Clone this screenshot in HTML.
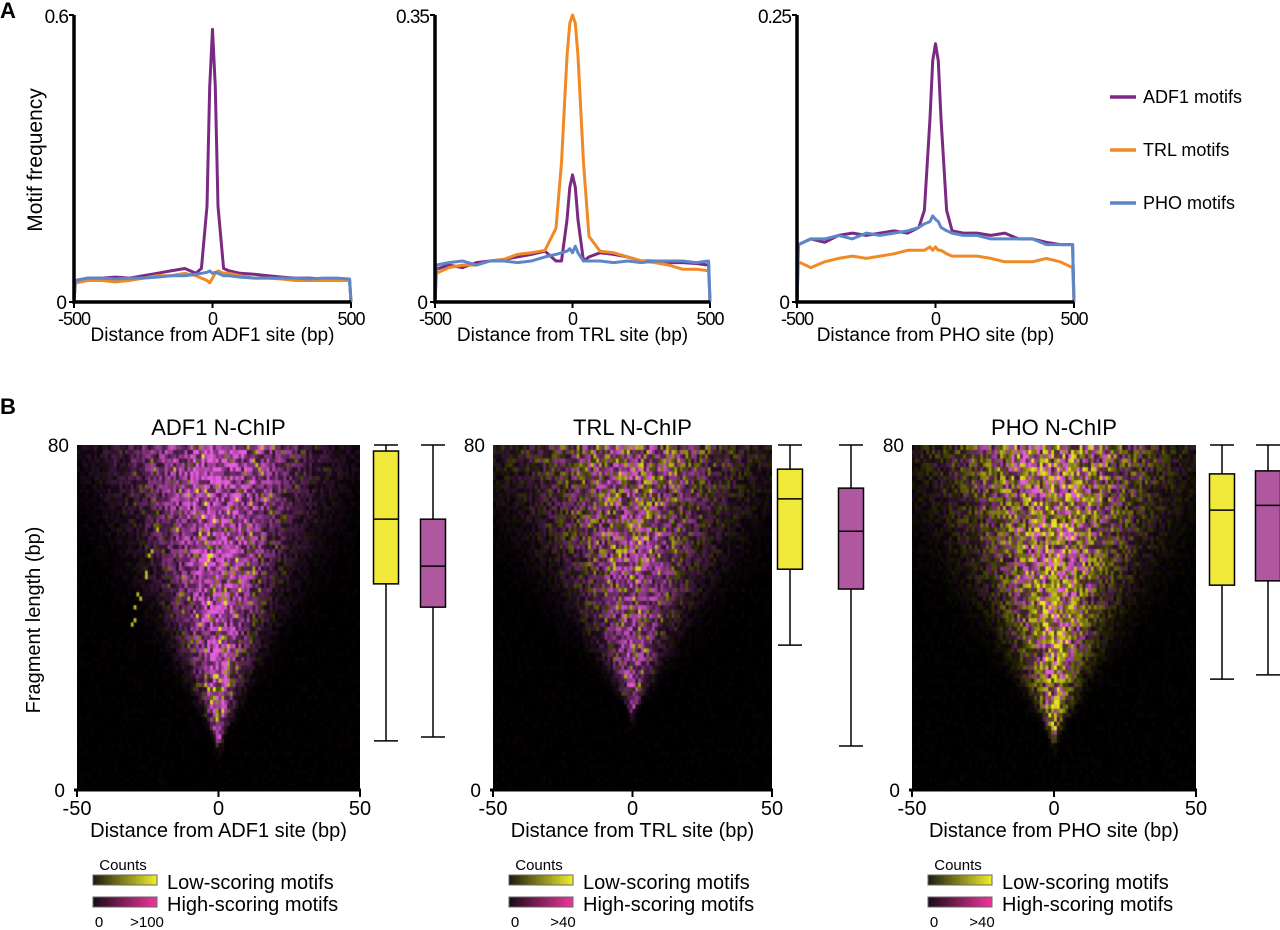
<!DOCTYPE html>
<html><head><meta charset="utf-8">
<style>
html,body{margin:0;padding:0;background:#fff;}
#wrap{position:relative;width:1280px;height:930px;overflow:hidden;font-family:"Liberation Sans",sans-serif;}
canvas{position:absolute;}
svg{position:absolute;left:0;top:0;}
text{font-family:"Liberation Sans",sans-serif;fill:#000;}
</style></head>
<body>
<div id="wrap">
<canvas id="hm0"></canvas>
<canvas id="hm1"></canvas>
<canvas id="hm2"></canvas>
<svg id="svg" width="1280" height="930"></svg>
</div>
<script>
// ---------- Panel A data ----------
const xs = [-500,-495,-450,-400,-350,-300,-250,-200,-150,-100,-60,-40,-20,-10,0,10,20,40,60,100,150,200,250,300,350,400,450,495,500];
const p1ADF1 = [0,0.045,0.05,0.05,0.052,0.05,0.055,0.06,0.065,0.07,0.06,0.07,0.2,0.45,0.57,0.45,0.2,0.07,0.065,0.06,0.058,0.055,0.052,0.05,0.05,0.048,0.048,0.045,0];
const p1TRL  = [0,0.04,0.045,0.045,0.042,0.045,0.05,0.055,0.055,0.06,0.055,0.05,0.045,0.04,0.05,0.06,0.065,0.06,0.06,0.055,0.05,0.05,0.048,0.045,0.045,0.045,0.045,0.045,0];
const p1PHO  = [0,0.045,0.05,0.05,0.048,0.05,0.05,0.052,0.055,0.055,0.058,0.06,0.062,0.065,0.06,0.062,0.06,0.055,0.055,0.052,0.05,0.05,0.05,0.05,0.048,0.05,0.05,0.048,0];
const p2ADF1 = [0,0.04,0.045,0.042,0.048,0.05,0.052,0.055,0.058,0.062,0.05,0.05,0.1,0.14,0.155,0.14,0.1,0.05,0.055,0.06,0.058,0.055,0.05,0.05,0.048,0.048,0.047,0.045,0];
const p2TRL  = [0,0.035,0.042,0.045,0.045,0.05,0.052,0.058,0.06,0.063,0.09,0.17,0.3,0.34,0.35,0.34,0.3,0.17,0.08,0.062,0.06,0.055,0.05,0.048,0.045,0.04,0.04,0.038,0];
const p2PHO  = [0,0.045,0.048,0.05,0.045,0.05,0.05,0.048,0.05,0.055,0.058,0.06,0.062,0.065,0.06,0.068,0.06,0.05,0.05,0.05,0.048,0.05,0.048,0.05,0.05,0.05,0.048,0.05,0];
const p3ADF1 = [0,0.05,0.055,0.052,0.058,0.06,0.058,0.06,0.062,0.06,0.065,0.08,0.16,0.21,0.225,0.21,0.16,0.08,0.062,0.06,0.06,0.058,0.06,0.055,0.055,0.052,0.05,0.05,0];
const p3TRL  = [0,0.035,0.03,0.035,0.038,0.04,0.038,0.04,0.042,0.045,0.045,0.045,0.048,0.045,0.048,0.045,0.045,0.042,0.04,0.04,0.04,0.038,0.035,0.035,0.035,0.038,0.035,0.03,0];
const p3PHO  = [0,0.05,0.055,0.055,0.058,0.055,0.06,0.058,0.06,0.062,0.065,0.068,0.07,0.075,0.072,0.07,0.065,0.062,0.06,0.058,0.058,0.055,0.055,0.055,0.055,0.05,0.05,0.05,0];
const yMaxLabels = ["0.6","0.35","0.25"];
const yMaxVals = [0.6,0.35,0.25];
const siteNames = ["ADF1","TRL","PHO"];
// ---------- Panel B data ----------
const yellowBox = [[11.4,47.8,62.8,78.6,80],[33.6,51.2,67.5,74.4,80],[25.7,47.5,64.9,73.3,80]];
const purpleBox = [[12.3,42.4,51.9,62.8,80],[10.2,46.6,60,70,80],[26.7,48.5,66,74,80]];
const hmApex = [12,19,13];
const hmHalfTop = [38,46,44];
const hmYellowFracBottom = [0.25,0.05,0.7];
const hmYellowFracTop = [0.05,0.45,0.5];
const hmGain = [1.0,0.8,0.95];
const countMax = [">100",">40",">40"];

const NS="http://www.w3.org/2000/svg";
const svg=document.getElementById('svg');
function mk(tag,attrs,parent){const e=document.createElementNS(NS,tag);for(const k in attrs)e.setAttribute(k,attrs[k]);(parent||svg).appendChild(e);return e;}
function txt(x,y,s,size,anchor,parent,extra){const t=mk('text',Object.assign({x:x,y:y,'font-size':size,'text-anchor':anchor||'start'},extra||{}),parent);t.textContent=s;return t;}

let t=txt(0,18,"A",22,"start",null,{'font-weight':'bold'});


t=txt(0,414,"B",22,"start",null,{'font-weight':'bold'});



// ---------- Line charts ----------
const lineX0=[74,435,797], lineX1=[351,710,1074], lineTop=15, lineBot=302;
const series=[[p1ADF1,p1TRL,p1PHO],[p2ADF1,p2TRL,p2PHO],[p3ADF1,p3TRL,p3PHO]];
const colors=["#7b2a84","#f08a24","#5b87c9"];
const snames=["adf1","trl","pho"];
for(let p=0;p<3;p++){
  const g=mk('g',{});
  
  
  const sx=v=>lineX0[p]+(v+500)/1000*(lineX1[p]-lineX0[p]);
  const sy=v=>lineBot-v/yMaxVals[p]*(lineBot-lineTop);
  for(let s=0;s<3;s++){
    const d=xs.map((x,i)=>(i?'L':'M')+sx(x).toFixed(1)+','+sy(series[p][s][i]).toFixed(1)).join('');
    const path=mk('path',{d:d,fill:'none',stroke:colors[s],'stroke-width':3,'stroke-linejoin':'round'},g);
    
    
  }
  const ax=mk('path',{d:`M${lineX0[p]},${lineTop}V${lineBot}H${lineX1[p]}`,fill:'none',stroke:'#000','stroke-width':3.5},g);
  
  
  mk('path',{d:`M${lineX0[p]-5},${lineTop}H${lineX0[p]}M${lineX0[p]-5},${lineBot}H${lineX0[p]}`,stroke:'#000','stroke-width':2},g);
  [-500,0,500].forEach(v=>{mk('line',{x1:sx(v),x2:sx(v),y1:lineBot,y2:lineBot+6,stroke:'#000','stroke-width':2},g);
    const tl=txt(sx(v),lineBot+23,String(v),18,'middle',g,{'letter-spacing':'-1'});
    
    });
  let yl=txt(lineX0[p]-6,lineTop+8,yMaxLabels[p],19,'end',g,{'letter-spacing':'-1'});
  
  
  yl=txt(lineX0[p]-7,lineBot+7,"0",19,'end',g);
  
  
  const xt=txt((lineX0[p]+lineX1[p])/2,lineBot+39,"Distance from "+siteNames[p]+" site (bp)",19,'middle',g);
  
  
}
t=txt(0,0,"Motif frequency",21,'middle',null,{transform:'translate(42,160) rotate(-90)'});


const legLabels=["ADF1 motifs","TRL motifs","PHO motifs"];
for(let i=0;i<3;i++){
  const g=mk('g',{});
  
  
  const y=97+i*53;
  mk('line',{x1:1110,x2:1136,y1:y,y2:y,stroke:colors[i],'stroke-width':3.5},g);
  txt(1143,y+6,legLabels[i],18,'start',g);
}

// ---------- Heatmaps ----------
const hmX0=[77,493,912], hmX1=[360,772,1196], hmTop=445, hmBot=790;
function hash(a,b,c){let h=(a*374761393+b*668265263+c*2147483647)|0;h=(h^(h>>>13))*1274126177|0;h=h^(h>>>16);return ((h>>>0)%10000)/10000;}
const boxYX=[[386,433],[790,851],[1222,1268]];
for(let p=0;p<3;p++){
  const cv=document.getElementById('hm'+p);
  const W=hmX1[p]-hmX0[p],H=hmBot-hmTop;
  cv.width=W;cv.height=H;cv.style.left=hmX0[p]+'px';cv.style.top=hmTop+'px';
  const ctx=cv.getContext('2d');
  ctx.fillStyle='#000';ctx.fillRect(0,0,W,H);
  const cols=100,rows=80,cw=W/cols,ch=H/rows;
  for(let r=0;r<rows;r++){
    const f=r+0.5;
    const tf=Math.max(0,(f-hmApex[p])/(80-hmApex[p]));
    const hw=1.5+tf*hmHalfTop[p];
    const yf=hmYellowFracBottom[p]+(hmYellowFracTop[p]-hmYellowFracBottom[p])*tf;
    const fade=f<hmApex[p]?Math.exp(-(hmApex[p]-f)*0.8):1;
    for(let c=0;c<cols;c++){
      const d=c-50+0.5;
      let inten=Math.exp(-Math.pow(d/hw,2)*1.4)*hmGain[p]*fade;
      const n1=hash(c,r,p+1),n2=hash(c+7,r*3,p+11);
      inten*=(0.3+0.9*n1);
      inten+=0.05*n2*n1;
      inten=Math.min(1,inten);
      let R,G,B;
      let yel=n2<yf;
      if(p===0 && Math.abs(d-(-30+(f-40)*0.4))<0.8 && f>38 && f<62 && n2>0.75){yel=true;inten=0.8;}
      if(yel){R=235*inten;G=225*inten;B=40*inten;}
      else{R=230*inten;G=95*inten;B=220*inten;}
      ctx.fillStyle=`rgb(${R|0},${G|0},${B|0})`;
      ctx.fillRect(c*cw,H-(r+1)*ch,cw+0.6,ch+0.6);
    }
  }
  const g=mk('g',{});
  
  
  const sx=v=>hmX0[p]+(v+50)/100*(hmX1[p]-hmX0[p]);
  const sy=v=>hmBot-v/80*(hmBot-hmTop);
  mk('line',{x1:hmX0[p]-3,x2:hmX1[p]+1,y1:hmBot,y2:hmBot,stroke:'#000','stroke-width':3},g);
  [-50,0,50].forEach(v=>{mk('line',{x1:sx(v),x2:sx(v),y1:hmBot,y2:hmBot+7,stroke:'#000','stroke-width':2},g);
    const tl=txt(sx(v),hmBot+25,String(v),20,'middle',g);
    
    });
  txt(hmX0[p]-8,sy(80)+7,"80",19,'end',g);
  txt(hmX0[p]-12,sy(0)+7,"0",19,'end',g);
  const ti=txt((hmX0[p]+hmX1[p])/2,435,siteNames[p]+" N-ChIP",22,'middle',g);
  
  
  const xt=txt((hmX0[p]+hmX1[p])/2,hmBot+47,"Distance from "+siteNames[p]+" site (bp)",20,'middle',g);
  
  
  [[yellowBox[p],'#f1e93a'],[purpleBox[p],'#b0589f']].forEach((bx,k)=>{
    const cx=boxYX[p][k],vals=bx[0];
    const bg=mk('g',{},g);
    
    
    mk('line',{x1:cx,x2:cx,y1:sy(vals[0]),y2:sy(vals[4]),stroke:'#000','stroke-width':1.5},bg);
    mk('line',{x1:cx-12,x2:cx+12,y1:sy(vals[0]),y2:sy(vals[0]),stroke:'#000','stroke-width':1.5},bg);
    mk('line',{x1:cx-12,x2:cx+12,y1:sy(vals[4]),y2:sy(vals[4]),stroke:'#000','stroke-width':1.5},bg);
    mk('rect',{x:cx-12.5,y:sy(vals[3]),width:25,height:sy(vals[1])-sy(vals[3]),fill:bx[1],stroke:'#000','stroke-width':1.5},bg);
    mk('line',{x1:cx-12.5,x2:cx+12.5,y1:sy(vals[2]),y2:sy(vals[2]),stroke:'#000','stroke-width':1.5},bg);
  });
  const lx=hmX0[p]+16;
  const lg=mk('g',{},g);
  
  
  const defs=mk('defs',{},lg);
  const gy=mk('linearGradient',{id:'gy'+p},defs);mk('stop',{offset:0,'stop-color':'#1a1a10'},gy);mk('stop',{offset:1,'stop-color':'#f3ef2a'},gy);
  const gp=mk('linearGradient',{id:'gp'+p},defs);mk('stop',{offset:0,'stop-color':'#1a0a18'},gp);mk('stop',{offset:1,'stop-color':'#f0359e'},gp);
  txt(lx+30,870,"Counts",15,'middle',lg);
  mk('rect',{x:lx,y:875,width:64,height:10,fill:`url(#gy${p})`,stroke:'#666','stroke-width':1},lg);
  mk('rect',{x:lx,y:897,width:64,height:10,fill:`url(#gp${p})`,stroke:'#666','stroke-width':1},lg);
  txt(lx+74,889,"Low-scoring motifs",20,'start',lg);
  txt(lx+74,911,"High-scoring motifs",20,'start',lg);
  txt(lx+6,927,"0",15,'middle',lg);
  txt(lx+54,927,countMax[p],15,'middle',lg);
}
t=txt(0,0,"Fragment length (bp)",20,'middle',null,{transform:'translate(40,620) rotate(-90)'});


</script>
</body></html>
